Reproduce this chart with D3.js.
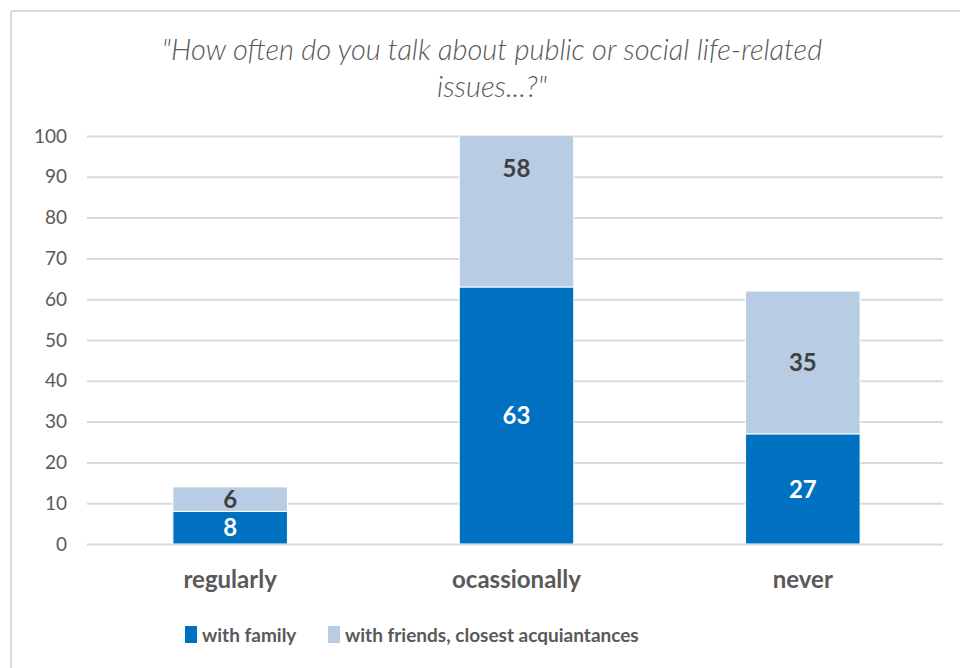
<!DOCTYPE html>
<html>
<head>
<meta charset="utf-8">
<script src="https://cdn.jsdelivr.net/npm/d3@7"></script>
<style>
  html, body { margin: 0; padding: 0; background: #fff; }
  svg { display: block; font-family: Lato, "Open Sans", sans-serif; }
</style>
</head>
<body>
<svg id="chart" width="960" height="668"></svg>
<script>
const categories = ["regularly", "ocassionally", "never"];
const seriesNames = ["with family", "with friends, closest acquiantances"];
const withFamily = [8, 63, 27];
const withFriends = [6, 58, 35];
const yTicks = [0, 10, 20, 30, 40, 50, 60, 70, 80, 90, 100];
const titleLines = ["\"How often do you talk about public or social life-related", "issues...?\""];

const colors = ["#0070C0", "#B8CCE4"];
const labelColors = ["#ffffff", "#404040"];

const svg = d3.select("#chart");
const W = 960, H = 668;
const margin = { left: 87, right: 14, top: 136, bottom: 124 };

// frame
svg.append("line").attr("x1", 11).attr("x2", W).attr("y1", 11).attr("y2", 11)
  .attr("stroke", "#d9d9d9").attr("stroke-width", 2);
svg.append("line").attr("x1", 11).attr("x2", 11).attr("y1", 11).attr("y2", H)
  .attr("stroke", "#d9d9d9").attr("stroke-width", 2);

const x = d3.scaleBand().domain(categories).range([margin.left, W - margin.right]).paddingInner(0.6).paddingOuter(0.3);
const y = d3.scaleLinear().domain([0, 100]).range([H - margin.bottom, margin.top]);

// clip
svg.append("clipPath").attr("id", "plotclip").append("rect")
  .attr("x", margin.left).attr("y", y(100)).attr("width", W - margin.right - margin.left).attr("height", y(0) - y(100));

// grid
const yAxis = d3.axisLeft(y).tickValues(yTicks).tickSize(-(W - margin.right - margin.left - 3)).tickPadding(20);
const gAxis = svg.append("g").attr("transform", `translate(${margin.left},0)`).call(yAxis);
gAxis.select(".domain").remove();
gAxis.selectAll(".tick line").attr("stroke", "#d9d9d9").attr("stroke-width", 2);
gAxis.selectAll(".tick text").attr("fill", "#595959").attr("font-size", 19).attr("font-family", "Lato, sans-serif");

// stacked data
const rows = categories.map((c, i) => ({ cat: c, family: withFamily[i], friends: withFriends[i] }));
const stack = d3.stack().keys(["family", "friends"]);
const stacked = stack(rows);

const plot = svg.append("g").attr("clip-path", "url(#plotclip)");
stacked.forEach((layer, li) => {
  plot.selectAll(null).data(layer).enter().append("rect")
    .attr("x", d => x(d.data.cat))
    .attr("width", x.bandwidth())
    .attr("y", d => y(d[1]))
    .attr("height", d => y(d[0]) - y(d[1]))
    .attr("fill", colors[li])
    .attr("stroke", "#ffffff").attr("stroke-width", 1);
});

// labels
stacked.forEach((layer, li) => {
  svg.selectAll(null).data(layer).enter().append("text")
    .attr("x", d => x(d.data.cat) + x.bandwidth() / 2)
    .attr("y", d => y((d[0] + d[1]) / 2))
    .attr("dy", "0.36em")
    .attr("text-anchor", "middle")
    .attr("font-size", 24).attr("font-weight", 700)
    .attr("fill", labelColors[li])
    .text(d => d[1] - d[0]);
});

// category labels
svg.selectAll(null).data(categories).enter().append("text")
  .attr("x", d => x(d) + x.bandwidth() / 2)
  .attr("y", 579).attr("dy", "0.36em")
  .attr("text-anchor", "middle").attr("font-size", 24).attr("font-weight", 700)
  .attr("fill", "#595959").text(d => d);

// title
svg.append("text").attr("text-anchor", "middle").attr("x", 492).attr("y", 60)
  .attr("font-size", 29).attr("font-style", "italic").attr("font-weight", 300).attr("fill", "#595959")
  .selectAll("tspan").data(titleLines).enter().append("tspan")
  .attr("x", 492).attr("dy", (d, i) => i === 0 ? 0 : 37).text(d => d);

// legend
const legendX = [185, 328];
seriesNames.forEach((s, i) => {
  const g = svg.append("g").attr("transform", `translate(${legendX[i]},0)`);
  g.append("rect").attr("x", 0).attr("y", 626).attr("width", 12).attr("height", 17).attr("fill", colors[i]);
  g.append("text").attr("x", 17).attr("y", 635).attr("dy", "0.36em")
    .attr("font-size", 19).attr("font-weight", 700).attr("fill", "#595959").text(s);
});
</script>
</body>
</html>
